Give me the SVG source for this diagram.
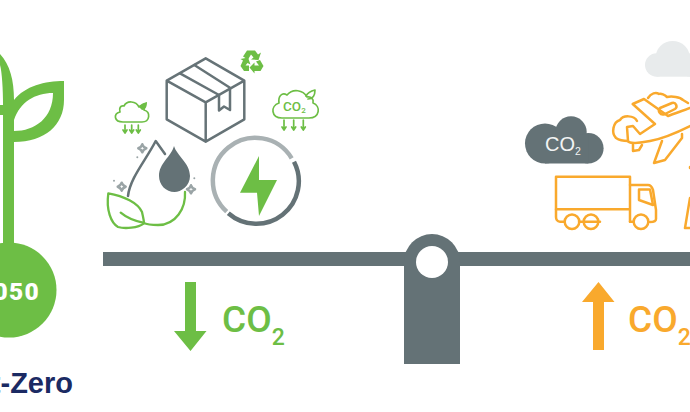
<svg xmlns="http://www.w3.org/2000/svg" width="690" height="412" viewBox="0 0 690 412">
<style>
.g{fill:none;stroke:#6dbe45;stroke-linecap:round;stroke-linejoin:round}
.o{fill:none;stroke:#f9a92d;stroke-width:2.500;stroke-linecap:round;stroke-linejoin:round}
.d{fill:none;stroke:#667377;stroke-width:2.500;stroke-linecap:round;stroke-linejoin:round}
.s{fill:#fff;stroke:#9aa4a6;stroke-width:2.500;stroke-linejoin:round}
.gf{fill:#6dbe45}.of{fill:#f9a92d}.df{fill:#647276}
.co{font-family:Roboto,"Liberation Sans",sans-serif;font-weight:500}
</style>
<rect width="690" height="412" fill="#fff"/>
<g id="plant">
<path d="M0 54C10 65 14 80 14 100V243H3V115H0V105H3C3 90 2 72 0 65Z" class="gf"/>
<path d="M14 100C25 86 45 81 64 81V100C64 125 45 142 14 142V131C35 131 53 118 53 93C35 93 20 102 14 120Z" class="gf"/>
<circle cx="9" cy="290" r="47.500" class="gf"/>
<text x="40" y="300" text-anchor="end" font-family="Roboto,'Liberation Sans',sans-serif" font-weight="900" font-size="24.500" letter-spacing="1.300" fill="#fff">2050</text>
</g>
<text id="net-zero" x="73" y="393" text-anchor="end" font-family="'Liberation Sans',sans-serif" font-weight="700" font-size="29" fill="#1b2a63">Net-Zero</text>
<g id="box" class="d">
<path d="M205.700 58.300L244.300 80.700V119.300L205.700 141.700L166.700 119.300V80.700ZM166.700 80.700L205.700 102.300L244.300 80.700M205.700 102.300V141.700"/>
<path d="M180 73.300L219 95V110.500L224 106.500L230 110V87.700L194.300 65"/>
</g>
<g id="recycle" fill="#6dbe45">
<path d="M247 50.500H255L258 54.500L261 52.500L258.500 60L251 59.500L253.500 57.500L251 54.500L248 59.500L243 56.500Z"/>
<path d="M260.500 60L264 66L261 71H255V73.500L250 67.500L255 62.500V65.500H259.500L256.500 61.500Z" transform="translate(-.500 0)"/>
<path d="M249 65.500V71H244L240.500 66L243 60.500L240.500 59L248 57.500L250.500 64.500L247.500 63L245.500 65.500Z"/>
</g>
<g id="cloud-left" class="g" stroke-width="1.700">
<path d="M123 122H142C150 122 151 112 144 110C145 106 141 105 139 107C136 101 127 100 124 106C120 105 119 109 120 112C113 114 114 122 123 122Z"/>
<path d="M139 107C141 103 144 103 147 102C147 106 146 110 142 110Z" class="gf" stroke="none"/>
<path d="M125 125V132M131.700 125V132M138.300 125V132M123 130L125 133 127 130M129.700 130L131.700 133 133.700 130M136.300 130L138.300 133 140.300 130"/>
</g>
<g id="cloud-co2" class="g" stroke-width="1.700">
<path d="M282 118H309C320 118 321 106 313 103C314 99 311 96 307 97C303 90 293 88 287 95C282 92 278 96 279 103C270 106 271 118 282 118Z"/>
<path d="M306 96C308 92 311 91 315 90C315 95 313 99 308 99"/>
<text x="283" y="111" class="co" font-size="13.500" font-weight="700" fill="#6dbe45" stroke="none">CO<tspan font-size="8" dy="2">2</tspan></text>
<path d="M284 120V129M293.700 120V129M303.300 120V129M282 127L284 130 286 127M291.700 127L293.700 130 295.700 127M301.300 127L303.300 130 305.300 127"/>
</g>
<g id="water-leaf">
<path d="M128 196C130 178 146 160 155.700 141L165 154" class="d"/>
<path d="M174 146C177 156 190 163 190 176C190 186 181 192 174.500 192C166 192 159 185 159 176C159 163 171 157 174 146Z" class="df"/>
<path d="M185 192C186 208 176 225 158 225C152 225 146 224 143 222.700C135 221 127 218 120.700 212.700" class="g" stroke-width="2.300"/>
<path d="M108.300 193.300C124 196 138 203 142 212C143 217 144 220 144 223.300C138 228 125 229 118 227C111 223 106 210 108.300 193.300Z" class="g" stroke-width="2.300"/>
<path d="M142.300 144.300Q143.300 147.300 146.300 148.300Q143.300 149.300 142.300 152.300Q141.300 149.300 138.300 148.300Q141.300 147.300 142.300 144.300ZM121.700 182.700Q122.700 185.700 125.700 186.700Q122.700 187.700 121.700 190.700Q120.700 187.700 117.700 186.700Q120.700 185.700 121.700 182.700ZM191 185.300Q192 188.300 195 189.300Q192 190.300 191 193.300Q190 190.300 187 189.300Q190 188.300 191 185.300Z" class="s"/>
<circle cx="137.300" cy="157.300" r="1" fill="#9aa4a6"/><circle cx="114" cy="180.700" r="1" fill="#9aa4a6"/><circle cx="194.300" cy="178.300" r="1" fill="#9aa4a6"/>
</g>
<g id="energy">
<path d="M226.700 211.700A42.500 42.500 0 1 1 291.700 158.300" fill="none" stroke="#a9b1b3" stroke-width="4.500"/>
<path d="M294 161.700A42.500 42.500 0 0 1 228.300 213.300" fill="none" stroke="#647276" stroke-width="4.500"/>
<path d="M259 156L240 192.700H257L259 216L277 180H259Z" class="gf"/>
</g>
<g id="beam" class="df">
<rect x="103" y="252" width="587" height="14"/>
<path d="M404 364V262A28 28 0 0 1 460 262V364Z"/>
<circle cx="432" cy="262" r="16" fill="#fff"/>
</g>
<g id="co2-down">
<path d="M185 282H196V331H206.500L190.500 351L174 331H185Z" class="gf"/>
<text x="222" y="332" class="co" font-size="37" fill="#6dbe45">CO<tspan font-size="23" dy="13">2</tspan></text>
</g>
<g id="co2-up">
<path d="M593 350H604V302H614.500L598.500 282L582 302H593Z" class="of"/>
<text x="628" y="332" class="co" font-size="37" fill="#f9a92d">CO<tspan font-size="23" dy="13">2</tspan></text>
</g>
<g id="cloud-dark">
<g class="df">
<circle cx="545" cy="143.500" r="20"/><circle cx="571" cy="132" r="15.700"/><circle cx="588.300" cy="148.300" r="15.300"/>
<rect x="545" y="135" width="43.300" height="28.500"/>
</g>
<text x="545" y="151" font-family="'Liberation Sans',sans-serif" font-size="20" fill="#f2f4f4">CO<tspan font-size="10.500" dy="4">2</tspan></text>
</g>
<g id="cloud-light" fill="#e8ebec">
<circle cx="656.700" cy="65" r="11.700"/><circle cx="672.700" cy="58.300" r="17.300"/><circle cx="690" cy="65" r="11.700"/>
<rect x="656.700" y="60" width="34" height="16.700"/>
</g>
<g id="plane" class="o">
<path d="M628 141C629 144 640 143 650 141C665 138 678 132 690 126M628 141L627 127L633 126L640 134L655 124L632.700 104L644 99L668 116C675 113 683 111 690 108"/>
<path d="M660 108L672 103C676 102 678 107 675 109L665 114C660 116 657 110 660 108Z"/>
<path d="M637 121C634 115 623 115 620 120C613 122 611 133 616 138C619 140 622 141 628 141"/>
<path d="M648 98C651 93 656 92 659 94C661 93 665 95 667 97C672 96 680 97 683 100L688 103"/>
<path d="M662 141L654 163L665 160L682 138V134M633 145V151L639 150L642 145"/>
</g>
<g id="truck" class="o">
<path d="M556 176.700H630V209.300H556ZM630 209.300V221.700"/>
<path d="M630 185H648C651 185 652 187 653 190L656 210V219C656 221 654 222 650 222M630 221.700H633M600 221.700H579M564 221.700H560C557 221.700 556 219 556 217V209.300M584 221.700H599"/>
<path d="M639 189.500H650L653 205L639 200Z"/>
<circle cx="572" cy="221.700" r="7.300"/><circle cx="591" cy="221.700" r="7.300"/><circle cx="641" cy="221.700" r="7.300"/>
</g>
<path id="pylon" class="o" d="M690 198L685 228H690M690 167V168"/>
</svg>
